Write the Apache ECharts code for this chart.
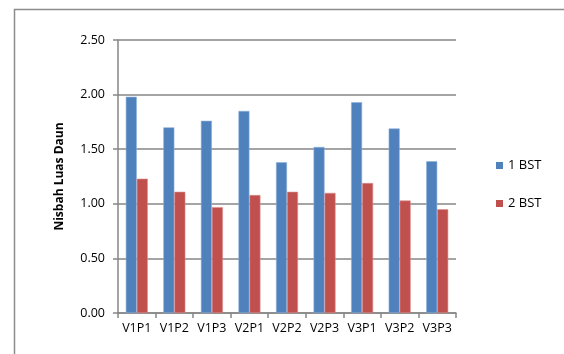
<!DOCTYPE html>
<html>
<head>
<meta charset="utf-8">
<script src="https://cdn.jsdelivr.net/npm/echarts@6/dist/echarts.min.js"></script>
<style>
  html, body { margin: 0; padding: 0; background: #fff; }
  #chart { width: 564px; height: 354px; }
</style>
</head>
<body>
<div id="chart"></div>
<script>
// Leaf area ratio per treatment, two observation times
const categories = ['V1P1', 'V1P2', 'V1P3', 'V2P1', 'V2P2', 'V2P3', 'V3P1', 'V3P2', 'V3P3'];
const bst1 = [1.98, 1.70, 1.76, 1.85, 1.38, 1.52, 1.93, 1.69, 1.39];
const bst2 = [1.23, 1.11, 0.97, 1.08, 1.11, 1.10, 1.19, 1.03, 0.95];
const seriesNames = ['1 BST', '2 BST'];
const yTicks = { min: 0, max: 2.5, interval: 0.5 };

const font = '"Open Sans", Lato, sans-serif';
const axisGray = '#868686';

const chart = echarts.init(document.getElementById('chart'), null, { renderer: 'canvas' });
chart.setOption({
  animation: false,
  textStyle: { fontFamily: font },
  graphic: [{
    type: 'rect',
    shape: { x: 14.5, y: 9.5, width: 600, height: 400 },
    style: { fill: 'none', stroke: '#8c8c8c', lineWidth: 1.5 },
    silent: true
  }],
  grid: { left: 118, right: 108, top: 40, bottom: 41 },
  legend: {
    orient: 'vertical',
    left: 491,
    top: 154,
    itemWidth: 7,
    itemHeight: 7,
    itemGap: 25,
    icon: 'rect',
    itemStyle: { borderWidth: 0 },
    textStyle: { fontFamily: font, fontSize: 13, color: '#000' },
    data: seriesNames
  },
  xAxis: {
    type: 'category',
    data: categories,
    axisLine: { lineStyle: { color: axisGray, width: 1.5 } },
    axisTick: { show: true, length: 5, lineStyle: { color: axisGray, width: 1.5 } },
    axisLabel: { interval: 0, color: '#000', fontSize: 12.5, fontFamily: font, margin: 9 }
  },
  yAxis: {
    type: 'value',
    min: yTicks.min,
    max: yTicks.max,
    interval: yTicks.interval,
    name: 'Nisbah Luas Daun',
    nameLocation: 'middle',
    nameGap: 52,
    nameRotate: 90,
    nameTextStyle: { fontFamily: font, fontSize: 12, fontWeight: 'bold', color: '#000' },
    axisLine: { show: true, lineStyle: { color: axisGray, width: 1.5 } },
    axisTick: { show: true, length: 5, lineStyle: { color: axisGray, width: 1.5 } },
    axisLabel: { color: '#000', fontSize: 12.5, fontFamily: font, margin: 13, formatter: v => v.toFixed(2) },
    splitLine: { lineStyle: { color: axisGray, width: 1.5 } }
  },
  series: [
    {
      name: seriesNames[0], type: 'bar', data: bst1, barWidth: 11, barGap: '0%',
      itemStyle: { color: '#4F81BD', borderColor: '#8DB0DA', borderWidth: 0.6 }
    },
    {
      name: seriesNames[1], type: 'bar', data: bst2, barWidth: 11,
      itemStyle: { color: '#C0504D', borderColor: '#DA8E8C', borderWidth: 0.6 }
    }
  ]
});
</script>
</body>
</html>
